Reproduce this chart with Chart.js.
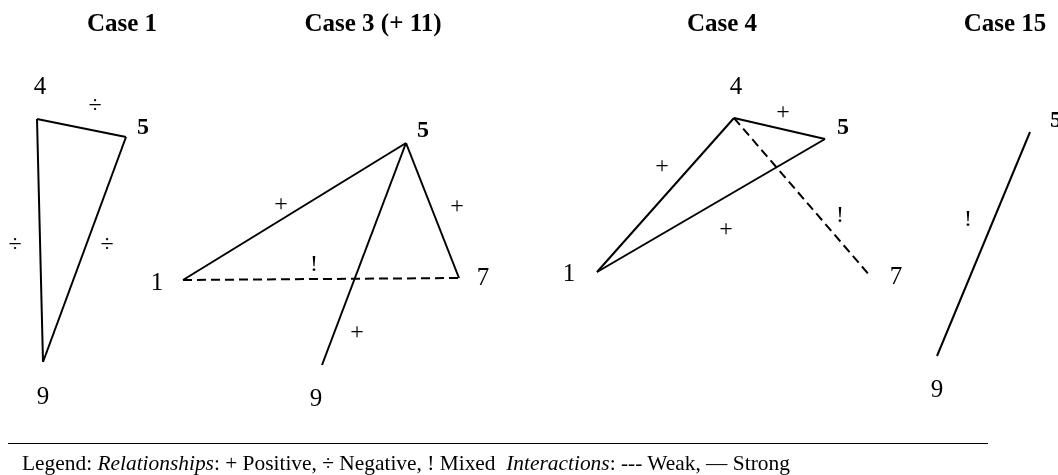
<!DOCTYPE html>
<html>
<head>
<meta charset="utf-8">
<script src="https://cdn.jsdelivr.net/npm/chart.js@4/dist/chart.umd.min.js"></script>
<style>
  body { margin: 0; background: #fff; font-family: "Liberation Serif", "Times New Roman", serif; }
  #wrap { position: relative; width: 1058px; height: 475px; overflow: hidden; }
  #rule { position: absolute; left: 8px; top: 443px; width: 980px; height: 0; border-top: 1.5px solid #000; }
  #legend { position: absolute; left: 22px; top: 451px; font-size: 21.4px; color: #000; white-space: nowrap; }
</style>
</head>
<body>
<div id="wrap">
  <canvas id="diagram"></canvas>
  <div id="rule"></div>
  <div id="legend">Legend: <i>Relationships</i>: + Positive, ÷ Negative, ! Mixed&nbsp; <i>Interactions</i>: --- Weak, — Strong</div>
</div>
<script>
// cases (diagram units, y grows downwards)
const caseTitles = ['Case 1', 'Case 3 (+ 11)', 'Case 4', 'Case 15'];
const titleX = [122, 373, 722, 1005];

// node anchor points per case: [id, x, y]
const case1Nodes = [['4', 37, 119], ['5', 126, 137], ['9', 43, 362]];
const case3Nodes = [['1', 183, 280], ['5', 406, 143], ['7', 459, 278], ['9', 322, 365]];
const case4Nodes = [['1', 597, 272], ['4', 734, 118], ['5', 825, 139], ['7', 871, 277]];
const case15Nodes = [['5', 1030, 132], ['9', 937, 356]];

// node label positions: [text, x, y, bold]
const case1Labels = [['4', 40, 87, 0], ['5', 143, 128, 1], ['9', 43, 397, 0]];
const case3Labels = [['1', 157, 283, 0], ['5', 423, 131, 1], ['7', 483, 278, 0], ['9', 316, 399, 0]];
const case4Labels = [['4', 736, 87, 0], ['5', 843, 128, 1], ['1', 569, 274, 0], ['7', 896, 277, 0]];
const case15Labels = [['5', 1056, 121, 1], ['9', 937, 390, 0]];

// edges: [from, to, relationship sign, interaction, sign x, sign y]
const case1Edges = [['4', '5', '÷', 'strong', 95, 106], ['4', '9', '÷', 'strong', 15, 245], ['5', '9', '÷', 'strong', 107, 245]];
const case3Edges = [['1', '5', '+', 'strong', 281, 205], ['5', '7', '+', 'strong', 457, 207], ['5', '9', '+', 'strong', 357, 333], ['1', '7', '!', 'weak', 314, 265]];
const case4Edges = [['4', '5', '+', 'strong', 783, 113], ['4', '1', '+', 'strong', 662, 167], ['1', '5', '+', 'strong', 726, 230], ['4', '7', '!', 'weak', 840, 216]];
const case15Edges = [['5', '9', '!', 'strong', 968, 220]];

const cases = [
  [case1Nodes, case1Edges, case1Labels],
  [case3Nodes, case3Edges, case3Labels],
  [case4Nodes, case4Edges, case4Labels],
  [case15Nodes, case15Edges, case15Labels]
];

const serif = '"Liberation Serif", "Times New Roman", serif';

const datasets = [];
cases.forEach(([nodes, edges]) => {
  const pos = {};
  nodes.forEach(n => { pos[n[0]] = { x: n[1], y: n[2] }; });
  edges.forEach(e => {
    datasets.push({
      data: [pos[e[0]], pos[e[1]]],
      showLine: true,
      borderColor: '#000',
      borderWidth: 2,
      borderDash: e[3] === 'weak' ? [9, 5] : [],
      pointRadius: 0,
      pointHoverRadius: 0
    });
  });
});

const textPlugin = {
  id: 'diagramText',
  afterDatasetsDraw(chart) {
    const ctx = chart.ctx, xs = chart.scales.x, ys = chart.scales.y;
    ctx.save();
    ctx.fillStyle = '#000';
    ctx.textAlign = 'center';
    ctx.textBaseline = 'middle';
    ctx.font = 'bold 25px ' + serif;
    caseTitles.forEach((t, i) => ctx.fillText(t, xs.getPixelForValue(titleX[i]), ys.getPixelForValue(25)));
    cases.forEach(([nodes, edges, labels]) => {
      labels.forEach(l => {
        ctx.font = (l[3] ? 'bold 24px ' : '25px ') + serif;
        ctx.fillText(l[0], xs.getPixelForValue(l[1]), ys.getPixelForValue(l[2]));
      });
      ctx.font = '24px ' + serif;
      edges.forEach(e => ctx.fillText(e[2], xs.getPixelForValue(e[4]), ys.getPixelForValue(e[5])));
    });
    ctx.restore();
  }
};

new Chart(document.getElementById('diagram'), {
  type: 'scatter',
  data: { datasets: datasets },
  options: {
    responsive: true,
    maintainAspectRatio: false,
    animation: false,
    layout: { padding: 0 },
    plugins: { legend: { display: false }, tooltip: { enabled: false } },
    scales: {
      x: { type: 'linear', min: 0, max: 1058, display: false },
      y: { type: 'linear', min: 0, max: 475, reverse: true, display: false }
    }
  },
  plugins: [textPlugin]
});
</script>
</body>
</html>
